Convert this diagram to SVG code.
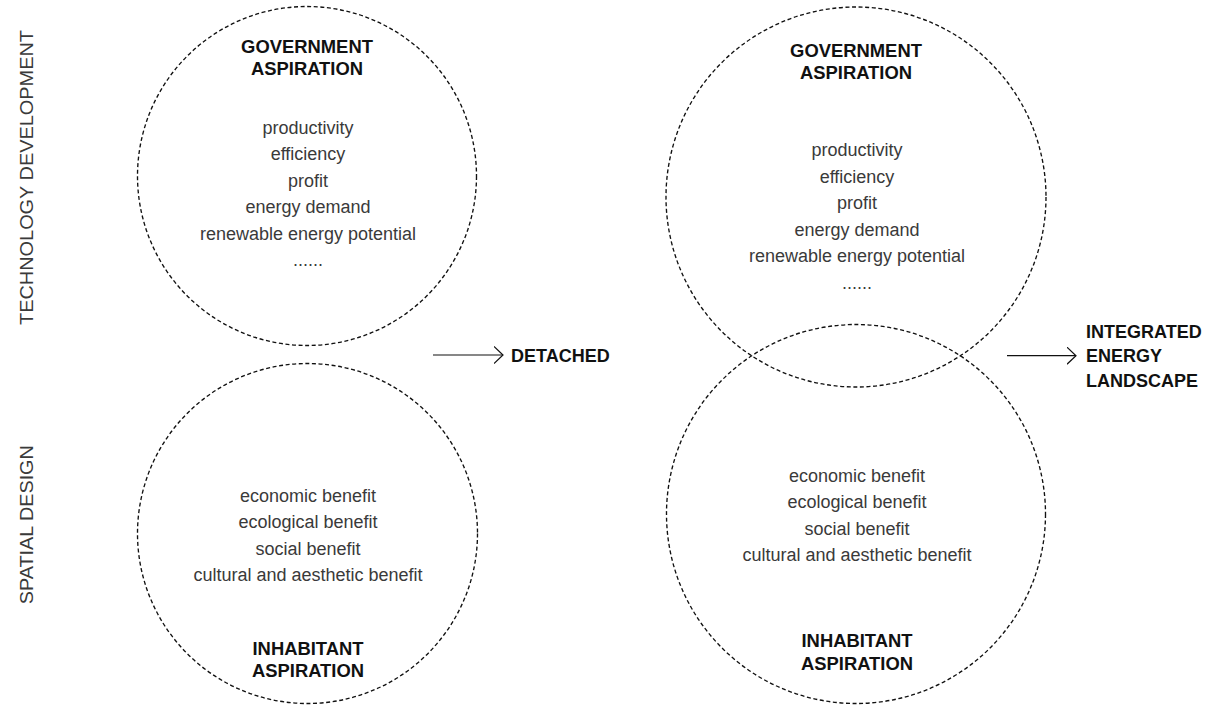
<svg xmlns="http://www.w3.org/2000/svg" width="1218" height="706" viewBox="0 0 1218 706">
  <style>
    .ring { fill: none; stroke: #111; stroke-width: 1.35; stroke-dasharray: 4 2.6; }
    .title { font-family: "Liberation Sans", Arial, sans-serif; font-weight: bold; font-size: 18.4px; fill: #111; text-anchor: middle; }
    .item { font-family: "Liberation Sans", Arial, sans-serif; font-size: 18px; fill: #3a3a3a; text-anchor: middle; }
    .axis { font-family: "Liberation Sans", Arial, sans-serif; font-size: 18.5px; fill: #3a3a3a; text-anchor: middle; }
    .outcome { font-family: "Liberation Sans", Arial, sans-serif; font-weight: bold; font-size: 18px; fill: #111; }
    .arrow { fill: none; stroke: #111; stroke-width: 1.2; }
  </style>
  <defs>
    <marker id="chevron" markerUnits="userSpaceOnUse" markerWidth="12" markerHeight="20" refX="9.5" refY="9" orient="auto">
      <path d="M0.5,0.5 L9.5,9 L0.5,17.5" fill="none" stroke="#111" stroke-width="1.2"/>
    </marker>
  </defs>
  <rect width="1218" height="706" fill="#fff"/>

  <!-- axis labels -->
  <g id="axis-labels">
    <text class="axis" transform="translate(33.3,177.5) rotate(-90)" textLength="295" lengthAdjust="spacingAndGlyphs">TECHNOLOGY DEVELOPMENT</text>
    <text class="axis" transform="translate(33.3,524.7) rotate(-90)" textLength="159" lengthAdjust="spacingAndGlyphs">SPATIAL DESIGN</text>
  </g>

  <!-- separate state: government circle -->
  <g id="gov-detached">
    <circle class="ring" cx="307" cy="176" r="169.5"/>
    <text class="title" x="307" y="53">GOVERNMENT</text>
    <text class="title" x="307" y="75">ASPIRATION</text>
    <text class="item" x="308" y="133.5">productivity</text>
    <text class="item" x="308" y="160">efficiency</text>
    <text class="item" x="308" y="186.5">profit</text>
    <text class="item" x="308" y="213">energy demand</text>
    <text class="item" x="308" y="239.5">renewable energy potential</text>
    <text class="item" x="308" y="266">......</text>
  </g>

  <!-- separate state: inhabitant circle -->
  <g id="inh-detached">
    <circle class="ring" cx="307.5" cy="533.5" r="170"/>
    <text class="item" x="308" y="501.5">economic benefit</text>
    <text class="item" x="308" y="528">ecological benefit</text>
    <text class="item" x="308" y="554.5">social benefit</text>
    <text class="item" x="308" y="581">cultural and aesthetic benefit</text>
    <text class="title" x="308" y="655">INHABITANT</text>
    <text class="title" x="308" y="677.3">ASPIRATION</text>
  </g>

  <!-- overlapping state: government circle -->
  <g id="gov-integrated">
    <circle class="ring" cx="856" cy="197" r="190"/>
    <text class="title" x="856" y="57">GOVERNMENT</text>
    <text class="title" x="856" y="79">ASPIRATION</text>
    <text class="item" x="857" y="156">productivity</text>
    <text class="item" x="857" y="182.5">efficiency</text>
    <text class="item" x="857" y="209">profit</text>
    <text class="item" x="857" y="235.5">energy demand</text>
    <text class="item" x="857" y="262">renewable energy potential</text>
    <text class="item" x="857" y="288.5">......</text>
  </g>

  <!-- overlapping state: inhabitant circle -->
  <g id="inh-integrated">
    <circle class="ring" cx="856" cy="514" r="189.5"/>
    <text class="item" x="857" y="481.5">economic benefit</text>
    <text class="item" x="857" y="508">ecological benefit</text>
    <text class="item" x="857" y="534.5">social benefit</text>
    <text class="item" x="857" y="561">cultural and aesthetic benefit</text>
    <text class="title" x="857" y="647.3">INHABITANT</text>
    <text class="title" x="857" y="670">ASPIRATION</text>
  </g>

  <!-- outcome labels -->
  <g id="detached">
    <text class="outcome" x="511" y="362">DETACHED</text>
  </g>
  <g id="integrated">
    <text class="outcome" x="1086" y="337.7">INTEGRATED</text>
    <text class="outcome" x="1086" y="362.3">ENERGY</text>
    <text class="outcome" x="1086" y="387.3">LANDSCAPE</text>
  </g>

  <!-- arrows -->
  <g id="connectors">
    <line class="arrow" x1="433" y1="355" x2="503" y2="355" marker-end="url(#chevron)"/>
    <line class="arrow" x1="1007" y1="355.7" x2="1076" y2="355.7" marker-end="url(#chevron)"/>
  </g>
</svg>
